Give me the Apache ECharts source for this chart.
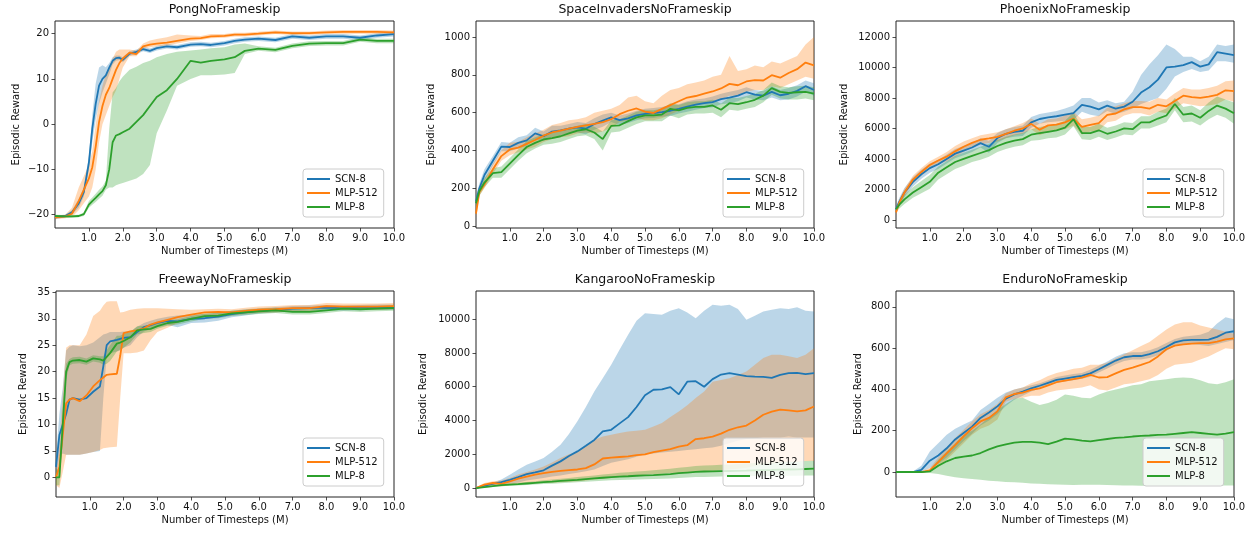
<!DOCTYPE html>
<html><head><meta charset="utf-8">
<script src="https://cdn.jsdelivr.net/npm/echarts@6/dist/echarts.min.js"></script>
<style>html,body{margin:0;padding:0;background:#fff}#c{width:1254px;height:535px}</style>
</head><body><div id="c"></div>
<script>
// ---------- DATA ----------
const seriesNames = ['SCN-8', 'MLP-512', 'MLP-8'];
const titles = ['PongNoFrameskip', 'SpaceInvadersNoFrameskip', 'PhoenixNoFrameskip', 'FreewayNoFrameskip', 'KangarooNoFrameskip', 'EnduroNoFrameskip'];
const xTicks = [1, 2, 3, 4, 5, 6, 7, 8, 9, 10];
const pongYTicks = [-20, -10, 0, 10, 20];
const spaceYTicks = [0, 200, 400, 600, 800, 1000];
const phoenixYTicks = [0, 2000, 4000, 6000, 8000, 10000, 12000];
const freewayYTicks = [0, 5, 10, 15, 20, 25, 30, 35];
const kangarooYTicks = [0, 2000, 4000, 6000, 8000, 10000];
const enduroYTicks = [0, 200, 400, 600, 800];

// Pong
const pongX = [0,0.3,0.5,0.7,0.85,1.0,1.1,1.2,1.3,1.4,1.5,1.6,1.7,1.8,1.9,2.0,2.2,2.4,2.6,2.8,3.0,3.3,3.6,4.0,4.3,4.6,5.0,5.3,5.6,6.0,6.5,7.0,7.5,8.0,8.5,9.0,9.5,10.0];
const pongSCN = [-20.6,-20.3,-19.5,-17.5,-15,-8.5,-1,4.5,8.5,10,10.8,12.5,14,14.6,14.7,14.2,15.6,16,16.6,16.2,16.8,17.2,17,17.6,17.7,17.5,17.9,18.4,18.7,18.9,18.6,19.4,19.1,19.4,19.4,19.1,19.6,19.9];
const pongSCNLo = [-21,-20.6,-20,-18.5,-16,-10,-4,1,4.5,7,9,11,13.2,14,14.2,13.7,15.1,15.5,16.1,15.7,16.3,16.7,16.5,17.1,17.2,17,17.4,17.9,18.2,18.4,18.1,18.9,18.6,18.9,18.9,18.6,19.1,19.4];
const pongSCNHi = [-20.2,-20,-19,-16.5,-14,-7,2,9,12.5,13,12.6,13.5,14.8,15.2,15.2,14.8,16.1,16.5,17.1,16.7,17.3,17.7,17.5,18.1,18.2,18,18.4,18.9,19.2,19.4,19.1,19.9,19.6,19.9,19.9,19.6,20.1,20.4];
const pongMLP512 = [-20.6,-20.4,-19.8,-17,-14.5,-12,-9.5,-5,0.5,4,6.5,8,10,12,13.5,14.5,15.8,15.5,17.2,17.6,17.8,18,18.4,18.9,19,19.4,19.5,19.8,19.8,20,20.3,20.1,20.1,20.3,20.4,20.4,20.4,20.3];
const pongMLP512Lo = [-21,-20.8,-20.5,-19,-17.5,-16,-14,-10,-4,0,2,4,6,7.5,10,12.5,15,15,16.6,17,17.2,17.4,17.8,18.4,18.6,19,19.1,19.4,19.4,19.6,19.9,19.7,19.7,19.9,20,20,20,19.9];
const pongMLP512Hi = [-20.2,-20,-18.5,-14,-11.5,-9,-6,0,5,8.5,11,12.5,14.5,16,16.5,16.5,16.5,16.2,17.8,18.5,18.8,19.2,19.8,19.6,19.5,19.9,19.9,20.2,20.2,20.4,20.7,20.5,20.5,20.7,20.8,20.8,20.8,20.7];
const pongMLP8 = [-20.3,-20.4,-20.4,-20.3,-19.9,-17.8,-17,-16.3,-15.5,-14.8,-13.5,-10,-4,-2.5,-2.2,-1.8,-1,0.5,2,4,6,7.5,10,14,13.6,14,14.3,14.8,16.2,16.7,16.4,17.3,17.8,17.9,17.9,18.7,18.4,18.4];
const pongMLP8Lo = [-20.6,-20.7,-20.7,-20.6,-20.3,-18.5,-17.8,-17.2,-16.5,-15.8,-14.5,-14,-14,-13.5,-13.2,-13,-12.5,-12,-11,-9,-2,3,8.5,10,10.8,10.8,11,11.3,15.5,16.2,15.9,16.8,17.3,17.4,17.4,18.2,17.9,17.9];
const pongMLP8Hi = [-20,-20.1,-20.1,-20,-19.5,-17,-16.2,-15.4,-14.5,-13.8,-12.5,-1,7,8,9.5,10.5,12,12.7,13.5,14,14.8,15.5,16,16.3,16.5,16.8,17,17.6,17.8,17.2,16.9,17.8,18.3,18.4,18.4,19.2,18.9,18.9];

// SpaceInvaders
const spaceX = [0,0.1,0.25,0.5,0.75,1,1.25,1.5,1.75,2,2.25,2.5,2.75,3,3.25,3.5,3.75,4,4.25,4.5,4.75,5,5.25,5.5,5.75,6,6.25,6.5,6.75,7,7.25,7.5,7.75,8,8.25,8.5,8.75,9,9.25,9.5,9.75,10];
const spaceSCN = [130,200,270,345,420,418,440,453,490,475,500,506,515,522,515,540,558,575,560,570,585,594,598,603,610,620,632,642,650,656,672,680,690,708,695,690,710,692,700,715,740,720];
const spaceSCNLo = [100,175,240,320,395,395,410,425,460,450,470,480,490,495,485,510,525,550,535,545,560,570,572,578,582,595,605,615,625,628,645,650,660,680,670,665,680,665,670,685,710,690];
const spaceSCNHi = [160,225,300,370,445,440,470,480,520,500,530,530,540,550,545,570,590,600,585,595,610,620,625,630,640,645,660,670,675,685,700,710,720,735,720,715,740,720,730,745,770,755];
const spaceMLP512 = [65,180,220,300,370,405,415,435,455,478,495,505,515,525,533,540,550,565,592,610,622,605,598,620,640,660,680,688,700,712,728,752,745,765,772,770,798,785,810,830,865,850];
const spaceMLP512Lo = [45,160,200,275,345,375,390,405,420,445,460,470,475,490,495,490,500,520,550,560,570,560,560,570,590,610,630,640,650,660,670,690,690,710,720,720,740,730,750,770,790,780];
const spaceMLP512Hi = [90,200,245,330,400,440,445,470,490,510,535,545,560,565,575,600,610,620,640,680,690,660,650,690,720,730,750,760,770,790,800,900,820,830,850,840,870,860,880,900,960,1000];
const spaceMLP8 = [120,185,230,280,285,330,375,418,440,458,465,475,490,505,512,495,460,530,533,555,575,586,585,590,620,612,625,630,630,638,615,650,645,655,668,690,730,710,705,708,710,700];
const spaceMLP8Lo = [90,160,205,255,255,300,345,385,410,430,435,445,460,475,480,460,400,495,500,520,540,555,555,555,585,570,590,595,595,600,575,615,610,620,630,655,695,675,670,670,675,665];
const spaceMLP8Hi = [150,210,255,305,315,360,405,450,470,485,495,500,520,530,540,525,500,560,565,585,605,612,612,620,650,640,655,660,660,668,648,680,678,688,700,720,760,740,735,740,742,735];

// Phoenix
const phoenixX = [0,0.1,0.25,0.5,0.75,1,1.25,1.5,1.75,2,2.25,2.5,2.75,3,3.25,3.5,3.75,4,4.25,4.5,4.75,5,5.25,5.5,5.75,6,6.25,6.5,6.75,7,7.25,7.5,7.75,8,8.25,8.5,8.75,9,9.25,9.5,9.75,10];
const phoenixSCN = [700,1200,1800,2500,3000,3400,3650,4000,4350,4550,4750,5040,4800,5370,5650,5780,5850,6400,6620,6720,6800,6900,7000,7550,7430,7250,7500,7300,7430,7750,8350,8700,9200,10000,10050,10150,10350,10050,10200,11000,10900,10800];
const phoenixSCNLo = [500,950,1500,2200,2700,3100,3350,3700,4050,4250,4450,4750,4400,5050,5350,5450,5500,6050,6300,6400,6450,6500,6550,7100,6900,6800,7150,6950,7100,7300,7600,7800,8000,8600,9400,9700,9900,9700,9800,10400,10400,10300];
const phoenixSCNHi = [900,1450,2100,2800,3300,3700,3950,4300,4650,4850,5050,5350,5200,5700,5950,6100,6200,6750,6950,7050,7150,7300,7500,8000,8000,7700,7850,7650,7750,8400,9500,10200,10800,11500,11200,10700,10700,10400,10700,11500,11400,11500];
const phoenixMLP512 = [500,1150,1800,2650,3150,3600,3900,4150,4500,4800,5050,5260,5350,5450,5650,5850,6000,6300,5920,6200,6250,6400,6650,6100,6240,6350,6890,6980,7250,7400,7400,7300,7550,7450,7800,8150,8050,8000,8080,8200,8500,8450];
const phoenixMLP512Lo = [300,950,1550,2400,2900,3350,3650,3850,4150,4450,4750,4950,5050,5150,5350,5550,5650,5950,5550,5800,5850,5950,6200,5600,5800,5850,6400,6500,6850,7000,7000,6850,7100,7000,7300,7650,7550,7450,7500,7600,7900,7750];
const phoenixMLP512Hi = [700,1350,2050,2900,3400,3850,4150,4450,4850,5150,5350,5550,5650,5750,5950,6150,6350,6650,6300,6600,6650,6850,7100,6600,6700,6850,7350,7450,7650,7800,7800,7750,8000,7900,8300,8650,8550,8550,8650,8800,9100,9150];
const phoenixMLP8 = [700,1000,1350,1800,2150,2500,3100,3450,3800,4000,4200,4390,4580,4850,5050,5200,5300,5590,5690,5780,5870,6050,6600,5700,5700,5880,5650,5800,6000,5950,6400,6400,6650,6850,7600,6900,6980,6700,7150,7500,7300,7000];
const phoenixMLP8Lo = [500,750,1050,1450,1750,2050,2650,3000,3350,3550,3800,3950,4150,4450,4650,4800,4900,5200,5250,5350,5400,5600,6150,5300,5250,5450,5250,5400,5600,5550,6000,6000,6200,6400,7200,6400,6450,6200,6600,6900,6700,6300];
const phoenixMLP8Hi = [900,1250,1650,2150,2550,2950,3500,3850,4200,4400,4600,4800,5000,5250,5450,5600,5700,5950,6100,6200,6300,6500,7050,6100,6100,6300,6050,6200,6400,6350,6800,6800,7100,7300,8000,7400,7500,7200,7700,8100,7900,7700];

// Freeway
const freewayX = [0,0.1,0.2,0.3,0.4,0.5,0.7,0.9,1.1,1.3,1.4,1.5,1.6,1.8,1.9,2.0,2.2,2.4,2.6,2.8,3.0,3.3,3.6,4.0,4.4,4.8,5.2,5.6,6.0,6.5,7.0,7.5,8.0,8.5,9.0,9.5,10.0];
const freewaySCN = [2,8,10,12,14.7,15,14.7,15,16.2,17.2,21,25,25.7,26,26.2,26.4,26.5,27.5,28.4,28.8,29.2,29.6,29.5,30,30.1,30.4,30.9,31.2,31.5,31.7,31.9,32,32.1,32,32.1,32.2,32.2];
const freewaySCNLo = [-1,4,4.5,4.3,4.3,4.3,4.3,4.5,4.8,5,15,23,23.5,23.8,24,24.5,25,26.5,27.6,28,28.4,28.8,28.4,29.2,29.3,29.6,30.3,30.6,31,31.2,31.4,31.5,31.6,31.5,31.6,31.7,31.7];
const freewaySCNHi = [4,12,17,24,24.7,25,24.8,25,25.5,26.5,27,27.2,27.5,27.5,27.5,27.6,27.6,28.5,29.2,29.6,30,30.4,30.6,30.8,30.9,31.2,31.5,31.8,32,32.2,32.4,32.5,32.6,32.5,32.6,32.7,32.7];
const freewayMLP512 = [0,2,8,14,14.7,15,14.4,15.5,17.2,18.4,18.9,19.4,19.5,19.6,23,27.3,27.6,27.8,28.2,28.9,29.3,29.8,30.3,30.8,31.2,31.3,31.2,31.5,31.7,31.8,32,32,32.4,32.3,32.3,32.3,32.4];
const freewayMLP512Lo = [-1.5,-2,1,4.3,4.3,4.3,4.3,4.5,4.8,5.2,5.5,5.6,5.7,5.8,15,23.5,23.5,23.6,24,26,27.5,28.3,29.2,30,30.5,30.7,30.6,30.9,31.1,31.2,31.4,31.4,31.8,31.7,31.7,31.7,31.8];
const freewayMLP512Hi = [1,6,16,24.5,25,25,25,27,30.5,31.5,32.5,33.2,33.3,33.3,31.2,31.3,31.7,31.9,32,32,32,31.9,31.8,31.7,31.8,31.9,31.8,32.1,32.3,32.4,32.6,32.6,33,32.9,32.9,32.9,33];
const freewayMLP8 = [0,0,10,20,21.8,22.1,22.2,21.9,22.5,22.3,22.1,22.8,23.5,25.3,25.5,25.8,26.5,27.8,28,28.1,28.6,29.2,29.4,30,30.5,30.6,31,31.2,31.4,31.6,31.3,31.3,31.6,31.9,31.8,31.9,32];
const freewayMLP8Lo = [-1.5,-1.5,7,18.5,21.2,21.5,21.6,21.3,21.9,21.7,21.3,21.5,22,23.8,24.2,24.5,25.5,27,27.3,27.5,28.1,28.7,28.9,29.5,30,30.1,30.5,30.7,30.9,31.1,30.8,30.8,31.1,31.4,31.3,31.4,31.5];
const freewayMLP8Hi = [1.5,1.5,13,21.5,22.4,22.7,22.8,22.5,23.1,22.9,22.9,24.1,25,26.8,26.8,27.1,27.5,28.6,28.7,28.7,29.1,29.7,29.9,30.5,31,31.1,31.5,31.7,31.9,32.1,31.8,31.8,32.1,32.4,32.3,32.4,32.5];

// Kangaroo
const kangarooX = [0,0.25,0.5,0.75,1,1.25,1.5,1.75,2,2.25,2.5,2.75,3,3.25,3.5,3.75,4,4.25,4.5,4.75,5,5.25,5.5,5.75,6,6.25,6.5,6.75,7,7.25,7.5,7.75,8,8.25,8.5,8.75,9,9.25,9.5,9.75,10];
const kangarooSCN = [0,150,250,350,490,650,820,930,1050,1330,1580,1900,2170,2500,2850,3350,3450,3830,4200,4800,5500,5820,5840,5980,5550,6300,6330,6000,6450,6720,6800,6720,6630,6600,6580,6520,6700,6800,6820,6750,6800];
const kangarooSCNLo = [-30,100,180,220,250,330,450,520,600,680,750,830,900,1000,1100,1300,1500,1600,1700,1850,2000,2050,2100,2150,2200,2250,2300,2350,2400,2500,2650,2800,2900,2950,3000,3000,3000,3050,3000,3000,3000];
const kangarooSCNHi = [50,200,330,500,790,1100,1380,1580,1780,2150,2560,3200,3950,4800,5720,6500,7300,8200,9070,9900,10350,10300,10260,10500,10650,10400,10060,10500,10850,10800,10850,10600,9960,10200,10450,10550,10650,10600,10700,10500,10450];
const kangarooMLP512 = [0,200,300,250,390,560,680,800,880,960,1020,1060,1100,1180,1400,1750,1800,1840,1880,1950,2000,2130,2220,2300,2450,2540,2900,2950,3050,3220,3450,3600,3700,4000,4340,4520,4650,4600,4540,4600,4830];
const kangarooMLP512Lo = [-50,100,150,100,180,250,280,290,300,320,350,370,400,450,500,550,600,650,700,750,790,820,850,870,890,920,950,970,990,1050,1100,1150,1200,1300,1400,1450,1500,1550,1550,1600,1600];
const kangarooMLP512Hi = [50,300,400,450,600,800,950,1100,1280,1520,1780,2000,2170,2500,2860,3050,3160,3260,3350,3400,3450,3650,3850,4200,4540,4900,5330,5720,6300,6400,6500,6700,6900,7300,7700,7900,7890,7800,7700,7900,8280];
const kangarooMLP8 = [0,60,120,170,200,230,270,310,350,380,420,460,490,530,570,610,650,680,700,730,750,770,800,830,880,920,960,980,990,1000,1010,1020,1030,1050,1060,1070,1090,1100,1110,1130,1150];
const kangarooMLP8Lo = [-30,20,70,110,130,150,180,210,240,260,290,320,340,370,400,430,460,480,490,510,520,530,550,570,600,620,650,660,670,680,690,690,700,710,710,720,720,730,730,740,750];
const kangarooMLP8Hi = [30,100,170,230,270,310,360,410,460,500,550,600,650,700,750,800,850,900,940,980,1010,1050,1100,1150,1200,1250,1300,1330,1350,1380,1400,1420,1450,1480,1500,1520,1550,1560,1580,1600,1620];

// Enduro
const enduroX = [0,0.25,0.5,0.75,1,1.25,1.5,1.75,2,2.25,2.5,2.75,3,3.25,3.5,3.75,4,4.25,4.5,4.75,5,5.25,5.5,5.75,6,6.25,6.5,6.75,7,7.25,7.5,7.75,8,8.25,8.5,8.75,9,9.25,9.5,9.75,10];
const enduroSCN = [0,0,0,10,55,80,115,158,189,220,262,288,318,355,376,390,405,418,432,446,453,460,466,478,498,519,540,556,562,562,571,585,606,628,638,640,640,641,655,675,682];
const enduroSCNLo = [-2,-2,-2,0,20,40,70,110,150,185,225,250,280,320,350,370,390,405,418,432,438,445,452,462,482,502,522,538,545,545,552,565,588,610,620,620,615,610,620,630,640];
const enduroSCNHi = [2,2,2,30,100,140,180,210,230,250,300,330,360,385,400,410,420,430,445,460,468,475,480,495,515,535,558,575,580,580,590,605,625,645,655,660,665,680,720,750,740];
const enduroMLP512 = [0,0,0,0,8,48,90,130,173,212,245,262,294,362,378,385,398,405,420,435,443,450,457,471,458,460,478,495,506,519,533,560,595,612,618,622,624,624,632,643,648];
const enduroMLP512Lo = [-2,-2,-2,-2,0,25,60,100,140,180,210,225,255,340,355,360,370,370,385,395,400,405,410,420,400,395,410,425,430,440,450,470,500,520,525,530,545,560,580,600,595];
const enduroMLP512Hi = [2,2,2,2,20,70,120,165,205,245,280,300,330,380,400,410,430,445,465,480,490,500,505,520,520,530,550,570,590,610,630,660,690,715,725,725,710,700,690,680,670];
const enduroMLP8 = [0,0,0,0,3,30,52,68,75,80,92,110,124,134,142,146,146,142,135,147,162,158,152,148,155,160,165,168,172,175,177,180,181,185,189,193,189,185,181,186,193];
const enduroMLP8Lo = [-2,-2,-2,-2,-5,-10,-18,-25,-30,-34,-38,-42,-45,-48,-50,-52,-55,-57,-59,-60,-62,-63,-62,-62,-62,-63,-64,-65,-65,-66,-67,-67,-67,-66,-66,-65,-65,-65,-65,-65,-65];
const enduroMLP8Hi = [2,2,2,2,10,60,100,140,180,200,230,265,300,330,355,360,340,325,335,350,375,370,360,358,375,390,400,410,420,425,440,445,450,455,458,455,445,430,425,435,450];

// ---------- CHART ----------
const FONT = 'DejaVu Sans';
const colors = ['#1f77b4', '#ff7f0e', '#2ca02c'];
const panels = [
  { x: pongX, yTicks: pongYTicks, s: [[pongSCN, pongSCNLo, pongSCNHi], [pongMLP512, pongMLP512Lo, pongMLP512Hi], [pongMLP8, pongMLP8Lo, pongMLP8Hi]] },
  { x: spaceX, yTicks: spaceYTicks, s: [[spaceSCN, spaceSCNLo, spaceSCNHi], [spaceMLP512, spaceMLP512Lo, spaceMLP512Hi], [spaceMLP8, spaceMLP8Lo, spaceMLP8Hi]] },
  { x: phoenixX, yTicks: phoenixYTicks, s: [[phoenixSCN, phoenixSCNLo, phoenixSCNHi], [phoenixMLP512, phoenixMLP512Lo, phoenixMLP512Hi], [phoenixMLP8, phoenixMLP8Lo, phoenixMLP8Hi]] },
  { x: freewayX, yTicks: freewayYTicks, s: [[freewaySCN, freewaySCNLo, freewaySCNHi], [freewayMLP512, freewayMLP512Lo, freewayMLP512Hi], [freewayMLP8, freewayMLP8Lo, freewayMLP8Hi]] },
  { x: kangarooX, yTicks: kangarooYTicks, s: [[kangarooSCN, kangarooSCNLo, kangarooSCNHi], [kangarooMLP512, kangarooMLP512Lo, kangarooMLP512Hi], [kangarooMLP8, kangarooMLP8Lo, kangarooMLP8Hi]] },
  { x: enduroX, yTicks: enduroYTicks, s: [[enduroSCN, enduroSCNLo, enduroSCNHi], [enduroMLP512, enduroMLP512Lo, enduroMLP512Hi], [enduroMLP8, enduroMLP8Lo, enduroMLP8Hi]] }
];
// layout (pixels) and axis extents
const layout = [
  { left: 55, top: 21, width: 339, height: 207, ymin: -22.95, ymax: 22.8, yGap: 34, titleTop: 3 },
  { left: 476, top: 21, width: 338, height: 207, ymin: -10.6, ymax: 1085, yGap: 40, titleTop: 3 },
  { left: 896, top: 21, width: 338, height: 207, ymin: -525, ymax: 13043, yGap: 47, titleTop: 3 },
  { left: 56, top: 291, width: 338, height: 206, ymin: -3.71, ymax: 35.25, yGap: 28, titleTop: 273 },
  { left: 476, top: 291, width: 338, height: 206, ymin: -529, ymax: 11667, yGap: 48, titleTop: 273 },
  { left: 896, top: 291, width: 338, height: 206, ymin: -121, ymax: 877, yGap: 33, titleTop: 273 }
];

const fmtY = v => (v < 0 ? '\u2212' + Math.abs(v) : String(v));

function bandSeries(gi, xs, lo, hi, color) {
  return {
    type: 'custom', xAxisIndex: gi, yAxisIndex: gi, silent: true, z: 1,
    encode: { x: 0, y: [1, 2] },
    data: xs.map((x, k) => [x, lo[k], hi[k]]),
    renderItem(params, api) {
      if (params.dataIndex !== 0) return null;
      const pts = [];
      for (let k = 0; k < xs.length; k++) pts.push(api.coord([xs[k], hi[k]]));
      for (let k = xs.length - 1; k >= 0; k--) pts.push(api.coord([xs[k], lo[k]]));
      return { type: 'polygon', shape: { points: pts }, style: { fill: color, opacity: 0.3 } };
    }
  };
}

const option = {
  animation: false,
  backgroundColor: '#ffffff',
  title: titles.map((t, i) => ({
    text: t, left: layout[i].left + layout[i].width / 2, top: layout[i].titleTop, textAlign: 'center', padding: 0,
    textStyle: { fontSize: 12.5, fontWeight: 'normal', color: '#111', fontFamily: FONT }
  })),
  grid: layout.map(g => ({ left: g.left, top: g.top, width: g.width, height: g.height, show: true, borderColor: '#222', borderWidth: 1, backgroundColor: 'transparent' })),
  xAxis: layout.map((g, i) => ({
    type: 'value', gridIndex: i, min: 0, max: 10,
    splitLine: { show: false }, axisLine: { show: false, onZero: false },
    axisTick: { show: true, customValues: xTicks, length: 3.5, lineStyle: { color: '#222', width: 0.8 } },
    axisLabel: { customValues: xTicks, formatter: v => Number(v).toFixed(1), fontSize: 10, color: '#111', margin: 5, fontFamily: FONT },
    name: 'Number of Timesteps (M)', nameLocation: 'middle', nameGap: 18,
    nameTextStyle: { fontSize: 10, color: '#111', fontFamily: FONT }
  })),
  yAxis: layout.map((g, i) => ({
    type: 'value', gridIndex: i, min: g.ymin, max: g.ymax,
    splitLine: { show: false }, axisLine: { show: false, onZero: false },
    axisTick: { show: true, customValues: panels[i].yTicks, length: 3.5, lineStyle: { color: '#222', width: 0.8 } },
    axisLabel: { customValues: panels[i].yTicks, formatter: fmtY, fontSize: 10, color: '#111', margin: 6, fontFamily: FONT },
    name: 'Episodic Reward', nameLocation: 'middle', nameGap: g.yGap, nameRotate: 90,
    nameTextStyle: { fontSize: 10, color: '#111', fontFamily: FONT }
  })),
  legend: layout.map(g => ({
    orient: 'vertical', left: g.left + g.width - 91, top: g.top + g.height - 59,
    data: seriesNames, icon: 'rect', itemWidth: 23, itemHeight: 2, itemGap: 4,
    padding: [5, 6, 5, 4], backgroundColor: 'rgba(255,255,255,0.8)', borderColor: '#cccccc', borderWidth: 1, borderRadius: 3,
    textStyle: { fontSize: 10, color: '#111', fontFamily: FONT },
    selectedMode: false
  })),
  series: []
};

panels.forEach((p, gi) => {
  p.s.forEach((trip, si) => {
    option.series.push(bandSeries(gi, p.x, trip[1], trip[2], colors[si]));
  });
  p.s.forEach((trip, si) => {
    option.series.push({
      type: 'line', name: seriesNames[si], xAxisIndex: gi, yAxisIndex: gi, z: 3,
      data: p.x.map((x, k) => [x, trip[0][k]]),
      showSymbol: false, symbol: 'none', color: colors[si],
      lineStyle: { width: 1.8, color: colors[si] }, itemStyle: { color: colors[si] },
      emphasis: { disabled: true }
    });
  });
});

const chart = echarts.init(document.getElementById('c'), null, { renderer: 'canvas' });
chart.setOption(option);
</script>
</body></html>
